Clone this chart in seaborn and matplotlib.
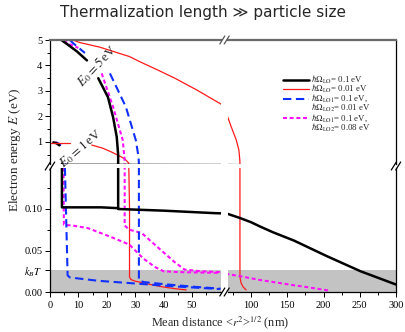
import numpy as np
import pandas as pd
import matplotlib
matplotlib.use("Agg")
import matplotlib.pyplot as plt
from matplotlib.lines import Line2D
from matplotlib.ticker import FixedLocator, NullFormatter
import seaborn as sns

# ---------------- data (x in nm, E in eV) ----------------
# E0 = 5 eV curves (short piece near the start, then the main branch)
rd5_x = [8, 10.5, 17.5, 28, 31.6, 38, 44, 52, 60, 68, 72.4, 79.4, 83, 84.3, 84.5, 84.5, 86, 89, 93]
rd5_e = [5.0, 4.9, 4.72, 4.35, 4.15, 3.82, 3.5, 3.02, 2.5, 1.95, 1.6, 1.08, 0.69, 0.3, 0.15, 0.018, 0.011, 0.006, 0.0025]
bk5a_x = [4.0, 6.5, 9.5, 13.0]
bk5a_e = [5.0, 4.8, 4.55, 4.2]
bk5_x = [17.0, 20.4, 22.2, 23.5, 24.0, 24.0, 24.0, 40, 58, 68, 85, 100, 112, 130, 159, 205, 251, 300]
bk5_e = [3.5, 2.76, 1.98, 1.2, 0.5, 0.2, 0.100, 0.098, 0.095, 0.094, 0.089, 0.084, 0.079, 0.072, 0.062, 0.043, 0.025, 0.009]
mg5a_x = [5.0, 6.0, 10.0]
mg5a_e = [5.0, 4.88, 4.69]
mg5_x = [18.2, 22.2, 25.6, 26.2, 26.3, 26.3, 28, 32.3, 37.9, 43.9, 47.4, 53, 60, 68, 85, 112, 157, 180, 208]
mg5_e = [3.69, 2.38, 1.08, 0.4, 0.15, 0.08, 0.075, 0.071, 0.054, 0.036, 0.027, 0.025, 0.024, 0.0215, 0.019, 0.0145, 0.0084, 0.0055, 0.0016]
bl5a_x = [7.0, 8.1, 12.3]
bl5a_e = [5.0, 4.88, 4.49]
bl5_x = [21.1, 26.7, 30.2, 31.2, 31.3, 31.3, 33, 40, 50, 60]
bl5_e = [3.69, 2.38, 1.08, 0.4, 0.15, 0.014, 0.012, 0.0095, 0.0065, 0.004]

# E0 = 1 eV curves
rd1a_x = [0, 7]
rd1a_e = [0.98, 0.98]
rd1_x = [14.7, 18.5, 21.8, 24.5, 26.3, 27.5, 28, 28, 28.5, 30, 33, 36, 40, 44, 48]
rd1_e = [0.88, 0.76, 0.6, 0.45, 0.34, 0.2, 0.1, 0.018, 0.015, 0.013, 0.011, 0.0085, 0.006, 0.004, 0.0025]
bk1a_x = [1.2, 2.3, 3.3]
bk1a_e = [0.985, 0.95, 0.87]
bk1_x = [4.2, 4.2, 10, 18, 24]
bk1_e = [0.15, 0.102, 0.102, 0.102, 0.101]
mg1a_x = [1.6, 2.6, 3.5]
mg1a_e = [0.985, 0.95, 0.87]
mg1_x = [4.8, 4.8, 4.9, 8, 13.3, 21.7, 28, 30, 33, 37, 40, 45, 60]
mg1_e = [0.15, 0.12, 0.081, 0.080, 0.077, 0.066, 0.057, 0.050, 0.040, 0.030, 0.025, 0.024, 0.023]
bl1a_x = [2.0, 3.0, 3.8]
bl1a_e = [0.985, 0.94, 0.86]
bl1_x = [5.25, 6.2, 7, 17, 27, 35, 45, 60]
bl1_e = [0.15, 0.02, 0.0175, 0.0135, 0.011, 0.009, 0.0065, 0.0035]

kBT = 0.026
legend_labels = [r"$\hbar\Omega_{\rm LO}$= 0.1 eV",
                 r"$\hbar\Omega_{\rm LO}$= 0.01 eV",
                 r"$\hbar\Omega_{\rm LO1}$= 0.1 eV,",
                 r"$\hbar\Omega_{\rm LO2}$= 0.01 eV",
                 r"$\hbar\Omega_{\rm LO1}$= 0.1 eV,",
                 r"$\hbar\Omega_{\rm LO2}$= 0.08 eV"]
title = "Thermalization length \u226b particle size"

# ---------------- style ----------------
sns.set_theme(style="ticks")
plt.rcParams["font.family"] = ["Liberation Serif", "DejaVu Serif"]
plt.rcParams["mathtext.fontset"] = "stix"
plt.rcParams["axes.linewidth"] = 0.9

W, H = 406, 332
fig = plt.figure(figsize=(W / 100, H / 100), dpi=100)

def fx(px):
    return px / W

def fy(py):
    return 1 - py / H

L0, L1 = 50, 221
R0, R1 = 228, 396
T0, T1 = 40, 164
B0, B1 = 168, 292

ax_tl = fig.add_axes([fx(L0), fy(T1), fx(L1) - fx(L0), fy(T0) - fy(T1)])
ax_tr = fig.add_axes([fx(R0), fy(T1), fx(R1) - fx(R0), fy(T0) - fy(T1)])
ax_bl = fig.add_axes([fx(L0), fy(B1), fx(L1) - fx(L0), fy(B0) - fy(B1)])
ax_br = fig.add_axes([fx(R0), fy(B1), fx(R1) - fx(R0), fy(B0) - fy(B1)])
axes = [ax_tl, ax_tr, ax_bl, ax_br]

ylim_top = (5 - (T1 - T0) / 25.5, 5)
ylim_bot = (0, (B1 - B0) / 830)
xlim_left = (0, (L1 - L0) / 2.84)
xlim_right = (68, 300)

RED = "#ff1a1a"
BLUE = "#1030ff"
MAG = "#ff10ff"
RED_S = (RED, 0.9, None)
MAG_S = (MAG, 1.5, [1.9, 1.3])
BLUE_S = (BLUE, 1.5, [4.0, 2.2])
BLK_S = ("black", 1.8, None)
curves = [
    (rd5_x, rd5_e, RED_S), (rd1_x, rd1_e, RED_S),
    (mg5a_x, mg5a_e, MAG_S), (mg5_x, mg5_e, MAG_S),
    (mg1a_x, mg1a_e, MAG_S), (mg1_x, mg1_e, MAG_S),
    (bl5a_x, bl5a_e, BLUE_S), (bl5_x, bl5_e, BLUE_S),
    (bl1a_x, bl1a_e, BLUE_S), (bl1_x, bl1_e, BLUE_S),
    (bk5a_x, bk5a_e, BLK_S), (bk5_x, bk5_e, BLK_S),
    (bk1a_x, bk1a_e, BLK_S), (bk1_x, bk1_e, BLK_S),
    (rd1a_x, rd1a_e, RED_S),
]

for ax in axes:
    if ax in (ax_bl, ax_br):
        ax.axhspan(0, kBT, color="#c3c3c3", lw=0, zorder=0)
    for xs, es, (c, lw, dash) in curves:
        df = pd.DataFrame({"x": xs, "E": es})
        sns.lineplot(data=df, x="x", y="E", ax=ax, sort=False, estimator=None,
                     color=c, linewidth=lw, zorder=2)
        if dash is not None:
            ax.lines[-1].set_dashes(dash)
    ax.set_xlabel("")
    ax.set_ylabel("")
    ax.set_facecolor("none")
    for s in ax.spines.values():
        s.set_visible(False)
        s.set_color("black")
        s.set_linewidth(0.9)
    ax.tick_params(which="both", direction="out", labelsize=7.5, width=0.7,
                   colors="black", pad=2)
    ax.tick_params(which="major", length=3.5)
    ax.tick_params(which="minor", length=2)

# limits
ax_tl.set_xlim(*xlim_left); ax_bl.set_xlim(*xlim_left)
ax_tr.set_xlim(*xlim_right); ax_br.set_xlim(*xlim_right)
ax_tl.set_ylim(*ylim_top); ax_tr.set_ylim(*ylim_top)
ax_bl.set_ylim(*ylim_bot); ax_br.set_ylim(*ylim_bot)

# spines
for ax in (ax_tl, ax_tr):
    ax.spines["top"].set_visible(True)
    ax.spines["top"].set_color("#6a6a6a")
    ax.spines["top"].set_linewidth(1.6)
ax_tl.spines["left"].set_visible(True)
ax_bl.spines["left"].set_visible(True)
ax_bl.spines["bottom"].set_visible(True)
ax_br.spines["bottom"].set_visible(True)
ax_tr.spines["right"].set_visible(True)
ax_br.spines["right"].set_visible(True)

# ticks
ax_tl.yaxis.set_major_locator(FixedLocator([1, 2, 3, 4, 5]))
ax_tl.yaxis.set_minor_locator(FixedLocator([0.5, 1.5, 2.5, 3.5, 4.5]))
ax_tl.set_yticklabels(["1", "2", "3", "4", "5"])
ax_tl.tick_params(axis="x", which="both", bottom=False, labelbottom=False)

ax_tr.tick_params(axis="both", which="both", left=False, bottom=False,
                  labelleft=False, labelbottom=False)
ax_br.tick_params(axis="y", which="both", left=False, labelleft=False)

ax_bl.yaxis.set_major_locator(FixedLocator([0.0, kBT, 0.05, 0.10]))
ax_bl.set_yticklabels(["0.00", r"$k_BT$", "0.05", "0.10"])
ax_bl.yaxis.set_minor_locator(FixedLocator([0.075, 0.125]))
ax_bl.yaxis.set_minor_formatter(NullFormatter())
ax_bl.xaxis.set_major_locator(FixedLocator([0, 10, 20, 30, 40, 50]))
ax_bl.set_xticklabels(["0", "10", "20", "30", "40", "50"])
ax_bl.xaxis.set_minor_locator(FixedLocator([5, 15, 25, 35, 45, 55]))
ax_bl.xaxis.set_minor_formatter(NullFormatter())

ax_br.xaxis.set_major_locator(FixedLocator([100, 150, 200, 250, 300]))
ax_br.set_xticklabels(["100", "150", "200", "250", "300"])
ax_br.xaxis.set_minor_locator(FixedLocator([75, 125, 175, 225, 275]))
ax_br.xaxis.set_minor_formatter(NullFormatter())
ax_br.tick_params(axis="x", pad=3)
ax_bl.tick_params(axis="x", pad=3)

# curve labels
lbl_kw = dict(fontsize=9.5, ha="center", va="center", zorder=5, clip_on=False)
ax_tl.text(16.5, 3.98, r"$E_0 = 5\,$eV", rotation=47, rotation_mode="anchor", **lbl_kw)
ax_tl.text(10.9, 0.76, r"$E_0 = 1\,$eV", rotation=41, rotation_mode="anchor", **lbl_kw)

# break marks
def brk(cx, cy, color="black"):
    for off in (-2.2, 2.2):
        fig.add_artist(Line2D([fx(cx + off - 2.5), fx(cx + off + 2.5)],
                              [fy(cy + 4), fy(cy - 4)], color=color, lw=0.9))

brk(L0, 166)
brk(R1, 166)
brk(224.5, T0, "#555555")
brk(224.5, B1)

# legend (manual)
rows = [79.5, 89.2, 98.7, 108.2, 118.3, 127.8]
handles = [BLK_S, RED_S, BLUE_S, None, MAG_S, None]
for ry, h, lab in zip(rows, handles, legend_labels):
    if h is not None:
        c, lw, dash = h
        ln = Line2D([fx(283), fx(309)], [fy(ry), fy(ry)], color=c, lw=lw)
        if dash is not None:
            ln.set_dashes(dash)
        fig.add_artist(ln)
    fig.text(fx(311), fy(ry), lab, fontsize=6.3, ha="left", va="center")

# axis labels and title
fig.text(fx(15), fy(150), r"Electron energy $E$ (eV)", rotation=90,
         fontsize=9.5, ha="center", va="center")
fig.text(fx(220), fy(323), r"Mean distance <$r^2$>$^{1/2}$ (nm)",
         fontsize=8.8, ha="center", va="center")
fig.text(0.5, fy(13), title, fontsize=11, ha="center", va="center",
         family=["DejaVu Sans"])

fig.savefig("out.png", dpi=100)
